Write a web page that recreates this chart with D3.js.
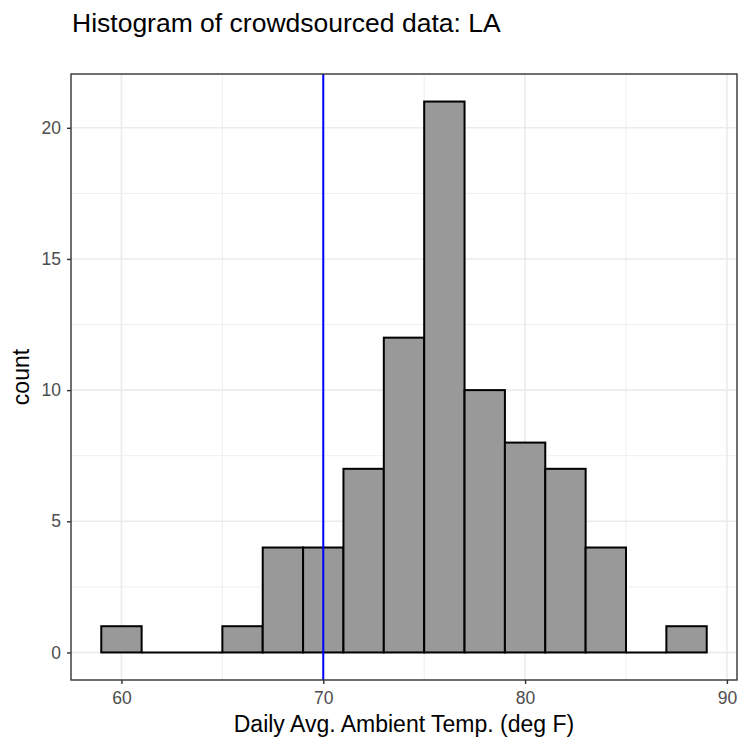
<!DOCTYPE html>
<html>
<head>
<meta charset="utf-8">
<script src="https://cdn.jsdelivr.net/npm/d3@7"></script>
<style>
  body { margin: 0; background: #fff; }
  text { font-family: "Liberation Sans", Arial, sans-serif; }
</style>
</head>
<body>
<div id="chart"></div>
<script>
var w = 750;
var h = 750;

// bin edges (width 2) and counts
var binStarts = [59, 61, 63, 65, 67, 69, 71, 73, 75, 77, 79, 81, 83, 85, 87];
var counts = [1, 0, 0, 1, 4, 4, 7, 12, 21, 10, 8, 7, 4, 0, 1];
var binWidth = 2;
var refLine = 70;
var xTicks = [60, 70, 80, 90];
var xMinor = [65, 75, 85];
var yTicks = [0, 5, 10, 15, 20];
var yMinor = [2.5, 7.5, 12.5, 17.5];

var pLeft = 71, pRight = 737, pTop = 74, pBottom = 680;

var xScale = d3.scaleLinear()
    .domain([57.5, 90.5])
    .range([pLeft, pRight]);

var yScale = d3.scaleLinear()
    .domain([-1.05, 22.05])
    .range([pBottom, pTop]);

var svg = d3.select("#chart")
    .append("svg")
    .attr("width", w)
    .attr("height", h);

// minor grid
svg.selectAll(".xminor").data(xMinor).enter().append("line")
    .attr("x1", d => xScale(d)).attr("x2", d => xScale(d))
    .attr("y1", pTop).attr("y2", pBottom)
    .attr("stroke", "#ebebeb").attr("stroke-width", 0.8);
svg.selectAll(".yminor").data(yMinor).enter().append("line")
    .attr("x1", pLeft).attr("x2", pRight)
    .attr("y1", d => yScale(d)).attr("y2", d => yScale(d))
    .attr("stroke", "#ebebeb").attr("stroke-width", 0.8);

// major grid
svg.selectAll(".xmajor").data(xTicks).enter().append("line")
    .attr("x1", d => xScale(d)).attr("x2", d => xScale(d))
    .attr("y1", pTop).attr("y2", pBottom)
    .attr("stroke", "#ebebeb").attr("stroke-width", 1.6);
svg.selectAll(".ymajor").data(yTicks).enter().append("line")
    .attr("x1", pLeft).attr("x2", pRight)
    .attr("y1", d => yScale(d)).attr("y2", d => yScale(d))
    .attr("stroke", "#ebebeb").attr("stroke-width", 1.6);

// bars
var bins = binStarts.map(function(s, i) { return {x0: s, x1: s + binWidth, n: counts[i]}; });
svg.selectAll(".bar").data(bins).enter().append("rect")
    .attr("x", d => xScale(d.x0))
    .attr("width", d => xScale(d.x1) - xScale(d.x0))
    .attr("y", d => yScale(d.n))
    .attr("height", d => yScale(0) - yScale(d.n))
    .attr("fill", "#999999")
    .attr("stroke", "#000")
    .attr("stroke-width", 2);

// zero-height bins still draw a line at baseline
svg.selectAll(".zero").data(bins.filter(d => d.n === 0)).enter().append("line")
    .attr("x1", d => xScale(d.x0)).attr("x2", d => xScale(d.x1))
    .attr("y1", yScale(0)).attr("y2", yScale(0))
    .attr("stroke", "#000").attr("stroke-width", 2);

// vertical reference line
svg.append("line")
    .attr("x1", xScale(refLine)).attr("x2", xScale(refLine))
    .attr("y1", pTop).attr("y2", pBottom)
    .attr("stroke", "#0000ff").attr("stroke-width", 2);

// panel border
svg.append("rect")
    .attr("x", pLeft).attr("y", pTop)
    .attr("width", pRight - pLeft).attr("height", pBottom - pTop)
    .attr("fill", "none").attr("stroke", "#333333").attr("stroke-width", 1.4);

// axes
var xAxis = d3.axisBottom(xScale).tickValues(xTicks).tickSize(4).tickPadding(8);
var gx = svg.append("g")
    .attr("transform", "translate(0," + pBottom + ")")
    .call(xAxis);
var yAxis = d3.axisLeft(yScale).tickValues(yTicks).tickSize(4).tickPadding(6);
var gy = svg.append("g")
    .attr("transform", "translate(" + pLeft + ",0)")
    .call(yAxis);

[gx, gy].forEach(function(g) {
    g.select(".domain").remove();
    g.selectAll(".tick line").attr("stroke", "#333333").attr("stroke-width", 1.4);
    g.selectAll(".tick text")
        .attr("fill", "#4d4d4d")
        .attr("font-size", 17.5)
        .style("font-size", "17.5px");
});

// titles
svg.append("text")
    .attr("x", 72).attr("y", 32)
    .style("font-size", "26.5px")
    .text("Histogram of crowdsourced data: LA");

svg.append("text")
    .attr("x", (pLeft + pRight) / 2).attr("y", 732)
    .attr("text-anchor", "middle")
    .style("font-size", "23px")
    .text("Daily Avg. Ambient Temp. (deg F)");

svg.append("text")
    .attr("transform", "translate(29," + ((pTop + pBottom) / 2) + ") rotate(-90)")
    .attr("text-anchor", "middle")
    .style("font-size", "23px")
    .text("count");
</script>
</body>
</html>
